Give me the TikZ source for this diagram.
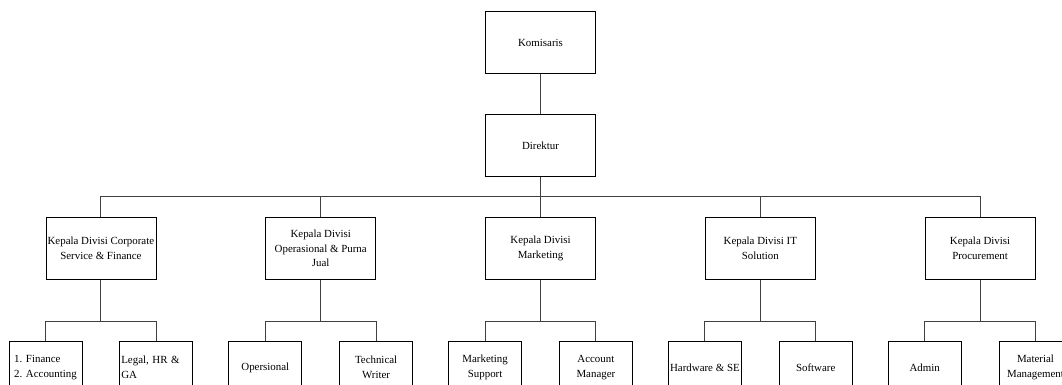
\documentclass[tikz,border=0pt]{standalone}
\usepackage{fontspec}
\setmainfont{Liberation Serif}
\usetikzlibrary{positioning}

\begin{document}
\begin{tikzpicture}[
			x=1pt, y=1pt,
			nodes = {
				align = center
			},
			block/.style={
				draw,
				fill=white,
				rectangle,
				minimum width=110pt,
				minimum height=61.5pt,
				inner xsep=1pt,
				line width=0.8pt,
				font=\fontsize{10.9}{14.8}\selectfont
			},
			subblock/.style={
				block,
				minimum width=73pt,
				minimum height=52pt
			},
			lines/.style={
				line width=0.9pt,
				draw=black!75
			}
		]
			\useasboundingbox (0,0) rectangle (1062,-385);

			\node[block] (kom) at (540.5,-42.5) {Komisaris};

			\node[block] (dir) [below=40.75pt of kom] {Direktur};

			\path (dir.south) ++(0,-20) coordinate (bus);

			\node[block] (mkt) [below=40.5pt of dir] {
				Kepala Divisi\\
				Marketing
			};
			\node[block] (ops) [left=109pt of mkt] {
				Kepala Divisi\\
				Operasional \& Purna\\
				Jual
			};
			\node[block] (csf) [left=109pt of ops] {
				Kepala Divisi Corporate\\
				Service \& Finance
			};
			\node[block] (its) [right=109pt of mkt] {
				Kepala Divisi IT\\
				Solution
			};
			\node[block] (proc) [right=109pt of its] {
				Kepala Divisi\\
				Procurement
			};

			% bawah tiap divisi
			\node[subblock,align=left] (fin) [below=61.5pt of csf.south west] {
				1. Finance\\
				2. Accounting
			};
			\node[subblock,text width=70pt,inner xsep=1.5pt,align=left]
				(leg)
				[below=61.5pt of csf.south east]
				{Legal, HR \&\\GA};
			\node[subblock] (opr) [below=61.5pt of ops.south west] {Opersional};
			\node[subblock] (tw) [below=61.5pt of ops.south east] {Technical\\Writer};
			\node[subblock] (ms) [below=61.5pt of mkt.south west] {Marketing\\Support};
			\node[subblock] (am) [below=61.5pt of mkt.south east] {Account\\Manager};
			\node[subblock] (hw) [below=61.5pt of its.south west] {Hardware \& SE};
			\node[subblock] (sw) [below=61.5pt of its.south east] {Software};
			\node[subblock] (adm) [below=61.5pt of proc.south west] {Admin};
			\node[subblock] (mm) [below=61.5pt of proc.south east] {Material\\Management};

			\path (csf.south) ++(0,-42) coordinate (csfbus);
			\path (ops.south) ++(0,-42) coordinate (opsbus);
			\path (mkt.south) ++(0,-42) coordinate (mktbus);
			\path (its.south) ++(0,-42) coordinate (itsbus);
			\path (proc.south) ++(0,-42) coordinate (procbus);

			\draw[lines] (kom) -- (dir);
			\draw[lines] (dir) -- (bus);
			\draw[lines] (csf) |- (bus) -| (proc);
			\draw[lines] (bus) -| (ops);
			\draw[lines] (bus) -| (mkt);
			\draw[lines] (bus) -| (its);

			\draw[lines] (csf) -- (csfbus);
			\draw[lines] (fin) |- (csfbus) -| (leg);
			\draw[lines] (ops) -- (opsbus);
			\draw[lines] (opr) |- (opsbus) -| (tw);
			\draw[lines] (mkt) -- (mktbus);
			\draw[lines] (ms) |- (mktbus) -| (am);
			\draw[lines] (its) -- (itsbus);
			\draw[lines] (hw) |- (itsbus) -| (sw);
			\draw[lines] (proc) -- (procbus);
			\draw[lines] (adm) |- (procbus) -| (mm);
		\end{tikzpicture}
\end{document}
